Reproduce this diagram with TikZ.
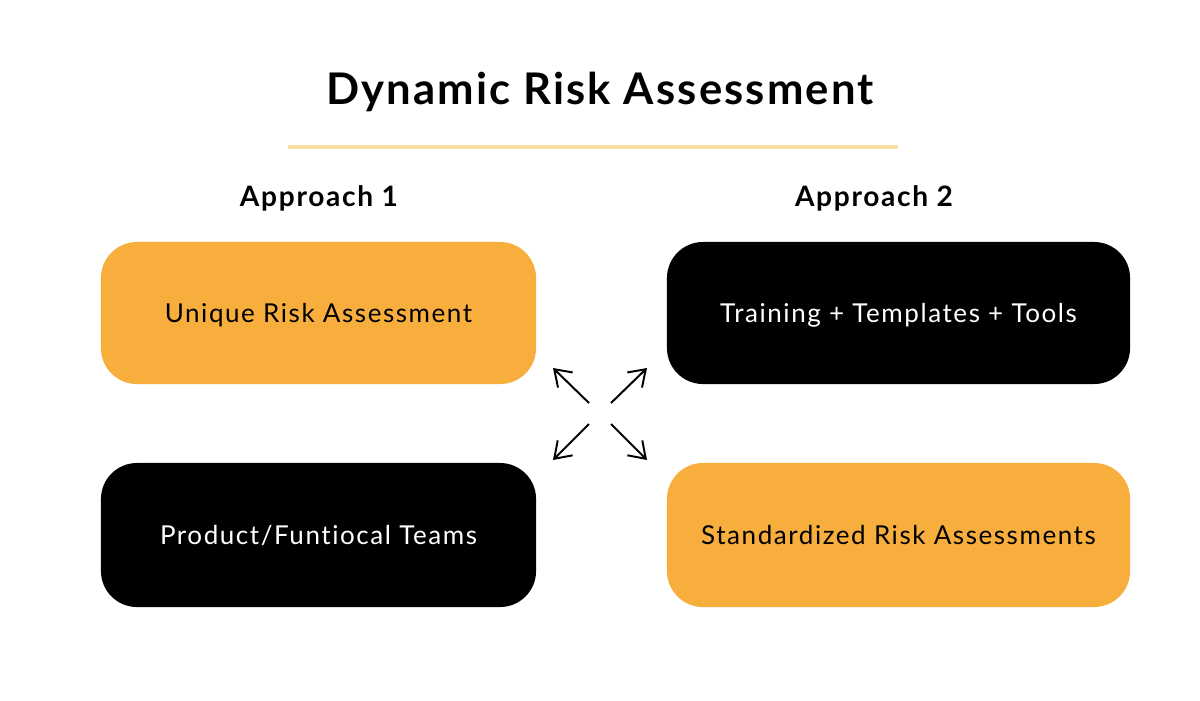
\documentclass[tikz,border=0pt]{standalone}
\usepackage{fontspec}
\setmainfont{Lato}[Ligatures={NoCommon}]
\newfontfamily\cardfont{Lato}[Ligatures={NoCommon},LetterSpace=6]
\newfontfamily\headfont{Lato}[Ligatures={NoCommon},LetterSpace=6]
\newfontfamily\titlefont{Lato}[Ligatures={NoCommon},LetterSpace=5]
\usetikzlibrary{arrows.meta}
\definecolor{boxorange}{HTML}{F8AE3C}
\definecolor{rulecol}{HTML}{F8DFA6}
\begin{document}
\begin{tikzpicture}[x=0.025cm,y=-0.025cm,
  card/.style={rounded corners=0.9cm, minimum height=3.55cm, inner sep=0pt, text depth=0pt, font=\cardfont\fontsize{18.5}{21}\selectfont},
  orangecard/.style={card, fill=boxorange, text=black},
  blackcard/.style={card, fill=black, text=white},
  heading/.style={text depth=0pt, font=\headfont\bfseries\fontsize{20}{24}\selectfont},
  arr/.style={-{Straight Barb[length=11pt,width=15pt]}, line width=1.4pt, black}]
\fill[white] (0,0) rectangle (1200,700);
\useasboundingbox (0,0) rectangle (1200,700);
\node[text depth=0pt, font=\titlefont\bfseries\fontsize{31}{36}\selectfont] (title) at (600,88) {Dynamic Risk Assessment};
\coordinate (rl) at (288,147);
\coordinate (rr) at (898,147);
\draw[rulecol, line width=3pt] (rl) -- (rr);
\node[heading] (ap1) at (319,196) {Approach 1};
\node[heading] (ap2) at (874,196) {Approach 2};
\node[orangecard, minimum width=10.875cm] (b1) at (318.5,313) {Unique Risk Assessment};
\node[blackcard, minimum width=11.575cm] (b2) at (898.5,313) {Training + Templates + Tools};
\node[blackcard, minimum width=10.875cm, minimum height=3.6cm] (b3) at (318.5,535) {Product/Funtiocal Teams};
\node[orangecard, minimum width=11.575cm, minimum height=3.6cm] (b4) at (898.5,535) {Standardized Risk Assessments};
\coordinate (s1) at (589,403); \coordinate (e1) at (553,368);
\coordinate (s2) at (611,403); \coordinate (e2) at (647,368);
\coordinate (s3) at (589,424); \coordinate (e3) at (553,460);
\coordinate (s4) at (611,424); \coordinate (e4) at (647,460);
\draw[arr] (s1) -- (e1);
\draw[arr] (s2) -- (e2);
\draw[arr] (s3) -- (e3);
\draw[arr] (s4) -- (e4);
\end{tikzpicture}
\end{document}
